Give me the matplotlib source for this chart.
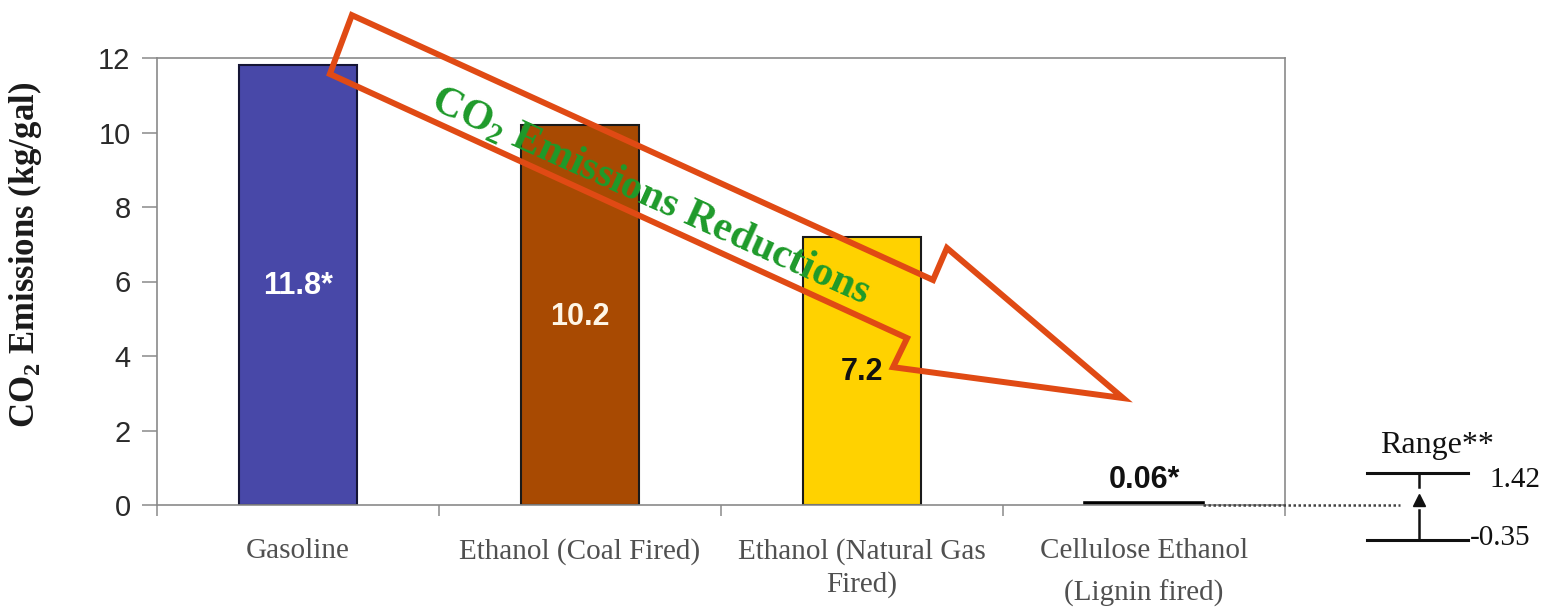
import matplotlib
matplotlib.use("Agg")
import matplotlib.pyplot as plt
from matplotlib.patches import Polygon
import numpy as np

# ---- data ----
categories = ["Gasoline", "Ethanol (Coal Fired)", "Ethanol (Natural Gas\nFired)",
              "Cellulose Ethanol\n(Lignin fired)"]
values = [11.8, 10.2, 7.2, 0.06]
value_labels = ["11.8*", "10.2", "7.2", "0.06*"]
bar_colors = ["#4848A8", "#A84A02", "#FFD200", "#111111"]
label_colors = ["white", "#FFF6E6", "#111111", "#111111"]
label_y = [5.88, 5.05, 3.57, 0.67]
yticks = [0, 2, 4, 6, 8, 10, 12]
range_high = 1.42
range_low = -0.35
range_title = "Range**"
arrow_text = r"CO$_\mathbf{2}$ Emissions Reductions"
ylabel = r"CO$_\mathbf{2}$ Emissions (kg/gal)"

# decorative arrow outline (data coordinates)
arrow_x = [0.191, 2.252, 2.301, 2.926, 2.110, 2.160, 0.113]
arrow_y = [13.15, 6.04, 6.90, 2.87, 3.70, 4.48, 11.57]

plt.rcParams["mathtext.fontset"] = "custom"
plt.rcParams["mathtext.rm"] = "Liberation Serif"
plt.rcParams["mathtext.bf"] = "Liberation Serif:bold"

fig = plt.figure(figsize=(15.57, 6.16), dpi=100)
ax = fig.add_axes([157 / 1557, 1 - 505 / 616, 1128 / 1557, 447 / 616])

x = np.arange(len(categories))
ax.bar(x, values, width=0.415, color=bar_colors,
       edgecolor=["#151535", "#1a1a1a", "#1a1a1a", "#000000"],
       linewidth=[1.5, 1.5, 1.5, 2.6], zorder=2)

ax.set_xlim(-0.5, 3.5)
ax.set_ylim(0, 12)

for spine in ax.spines.values():
    spine.set_color("#8a8a8a")
    spine.set_linewidth(1.2)

ax.set_yticks(yticks)
ax.set_yticklabels([str(t) for t in yticks], fontfamily="Liberation Sans",
                   fontsize=21, color="#2a2a2a")
ax.tick_params(axis="y", direction="out", length=11, width=1.1,
               color="#8a8a8a", pad=8)

ax.set_xticks(x)
ax.set_xticklabels(categories, fontfamily="Liberation Serif", fontsize=21,
                   color="#505050", linespacing=1.3)
ax.set_xticks(np.arange(-0.5, 3.6, 1.0), minor=True)
ax.tick_params(axis="x", which="major", length=0, pad=24)
ax.tick_params(axis="x", which="minor", direction="out", length=8,
               width=1.1, color="#8a8a8a")
ax.get_xticklabels()[3].set_linespacing(1.75)

ax.set_ylabel(ylabel, fontfamily="Liberation Serif", fontweight="bold",
              fontsize=25, color="#1a1a1a")
ax.yaxis.set_label_coords(-0.100, 0.559)

for xi, lab, c, ly in zip(x, value_labels, label_colors, label_y):
    ax.text(xi, ly, lab, ha="center", va="center", fontfamily="Liberation Sans",
            fontweight="bold", fontsize=22, color=c, zorder=4)

# arrow
poly = Polygon(np.column_stack([arrow_x, arrow_y]), closed=True, fill=False,
               edgecolor="#E04A14", linewidth=4.3, joinstyle="miter",
               clip_on=False, zorder=5)
ax.add_patch(poly)
ax.text(1.25, 8.30, arrow_text, rotation=-24.3, rotation_mode="anchor",
        ha="center", va="center", fontfamily="Liberation Serif",
        fontweight="bold", fontsize=30, color="#1E9A2A", zorder=6)

# range annotation (schematic, outside the plot box)
rx = 3.975
ax.plot([3.21, 3.908], [0.0, 0.0], linestyle=(0, (1, 1)), color="#444444",
        linewidth=1.8, clip_on=False, zorder=3)
ax.plot([3.79, 4.149], [0.86, 0.86], color="#111111", lw=2.2, clip_on=False)
ax.plot([3.79, 4.149], [-0.94, -0.94], color="#111111", lw=2.2, clip_on=False)
ax.plot([rx, rx], [0.86, 0.48], color="#111111", lw=1.8, clip_on=False)
ax.plot([rx, rx], [-0.13, -0.94], color="#111111", lw=1.8, clip_on=False)
ax.plot([rx], [values[3] + 0.08], marker="^", markersize=8, color="#111111",
        clip_on=False)
ax.text(4.04, 1.61, range_title, ha="center", va="center",
        fontfamily="Liberation Serif", fontsize=23, color="#111111")
ax.text(4.225, 0.67, f"{range_high:.2f}", ha="left", va="center",
        fontfamily="Liberation Serif", fontsize=21, color="#111111")
ax.text(4.155, -0.89, f"{range_low:.2f}", ha="left", va="center",
        fontfamily="Liberation Serif", fontsize=21, color="#111111")

fig.savefig("out.png", dpi=100)
